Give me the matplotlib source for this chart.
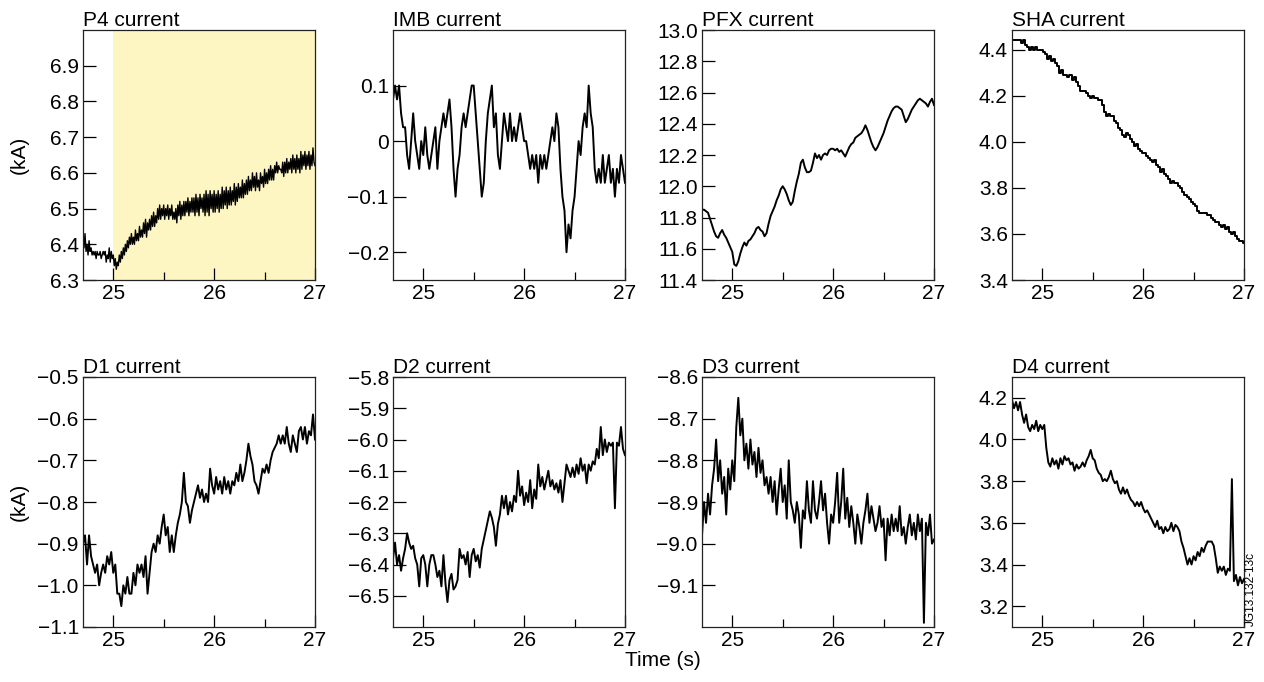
import numpy as np
import matplotlib
matplotlib.use("Agg")
import matplotlib.pyplot as plt
from matplotlib.ticker import FixedLocator, FixedFormatter

plt.rcParams['font.family'] = ['Liberation Sans', 'DejaVu Sans']

# ---------------- data ----------------
t_start, t_end = 24.7, 27.0
shade_start, shade_end = 25.0, 27.0

p4_current = [
    6.42, 6.39, 6.43, 6.38, 6.40, 6.37, 6.41, 6.38, 6.39, 6.37,
    6.38, 6.37, 6.38, 6.36, 6.38, 6.37, 6.37, 6.38, 6.36, 6.37,
    6.38, 6.37, 6.38, 6.35, 6.37, 6.36, 6.39, 6.35, 6.38, 6.36,
    6.37, 6.34, 6.36, 6.33, 6.35, 6.34, 6.37, 6.35, 6.38, 6.36,
    6.39, 6.37, 6.40, 6.38, 6.41, 6.39, 6.42, 6.40, 6.43, 6.40,
    6.42, 6.40, 6.44, 6.41, 6.43, 6.41, 6.45, 6.42, 6.44, 6.42,
    6.46, 6.43, 6.47, 6.42, 6.46, 6.44, 6.47, 6.44, 6.48, 6.45,
    6.49, 6.45, 6.48, 6.46, 6.50, 6.47, 6.51, 6.47, 6.50, 6.48,
    6.51, 6.47, 6.50, 6.48, 6.51, 6.47, 6.50, 6.48, 6.51, 6.47,
    6.49, 6.47, 6.50, 6.46, 6.51, 6.48, 6.52, 6.47, 6.51, 6.48,
    6.52, 6.48, 6.52, 6.49, 6.53, 6.48, 6.52, 6.49, 6.53, 6.49,
    6.53, 6.48, 6.54, 6.49, 6.53, 6.48, 6.54, 6.50, 6.53, 6.49,
    6.54, 6.48, 6.55, 6.49, 6.54, 6.48, 6.55, 6.50, 6.54, 6.49,
    6.55, 6.49, 6.54, 6.50, 6.55, 6.49, 6.54, 6.50, 6.56, 6.50,
    6.55, 6.51, 6.56, 6.50, 6.55, 6.51, 6.56, 6.51, 6.55, 6.52,
    6.57, 6.51, 6.56, 6.52, 6.57, 6.53, 6.56, 6.53, 6.58, 6.53,
    6.57, 6.54, 6.58, 6.54, 6.59, 6.55, 6.58, 6.55, 6.60, 6.56,
    6.59, 6.55, 6.60, 6.56, 6.58, 6.55, 6.60, 6.57, 6.59, 6.56,
    6.61, 6.57, 6.60, 6.57, 6.61, 6.58, 6.62, 6.58, 6.61, 6.58,
    6.62, 6.60, 6.63, 6.60, 6.62, 6.61, 6.61, 6.60, 6.63, 6.59,
    6.63, 6.60, 6.64, 6.60, 6.63, 6.61, 6.64, 6.60, 6.65, 6.61,
    6.64, 6.60, 6.65, 6.61, 6.64, 6.60, 6.66, 6.61, 6.65, 6.62,
    6.66, 6.61, 6.65, 6.62, 6.66, 6.61, 6.65, 6.62, 6.67, 6.63,
    6.62,
]

imb_current = [
    0.075, 0.1, 0.075, 0.1, 0.05, 0.025, 0.025, -0.025, -0.05, 0.0,
    0.05, 0.0, -0.025, -0.05, 0.0, -0.025, 0.025, -0.025, -0.05, -0.025,
    0.0, 0.025, -0.05, 0.0, 0.025, 0.05, 0.025, 0.05, 0.075, 0.025,
    -0.05, -0.1, -0.05, -0.025, 0.025, 0.05, 0.025, 0.05, 0.075, 0.1,
    0.1, 0.05, 0.0, -0.05, -0.1, -0.075, 0.0, 0.05, 0.075, 0.1,
    0.025, 0.05, -0.025, -0.05, 0.0, 0.05, 0.025, 0.0, 0.05, 0.0,
    0.025, 0.0, 0.025, 0.05, 0.025, 0.0, 0.0, -0.025, -0.05, -0.025,
    -0.05, -0.025, -0.075, -0.025, -0.05, -0.025, -0.05, -0.025, 0.0, 0.025,
    0.0, 0.05, 0.025, -0.05, -0.1, -0.125, -0.2, -0.15, -0.175, -0.125,
    -0.1, -0.05, 0.0, -0.025, 0.025, 0.05, 0.025, 0.1, 0.05, 0.025,
    -0.05, -0.075, -0.05, -0.075, -0.025, -0.075, -0.05, -0.025, -0.075, -0.05,
    -0.1, -0.05, -0.075, -0.025, -0.05, -0.075,
]

pfx_current = [
    11.85, 11.85, 11.84, 11.83, 11.79, 11.75, 11.71, 11.68, 11.67, 11.70,
    11.72, 11.69, 11.67, 11.64, 11.61, 11.58, 11.50, 11.49, 11.52, 11.57,
    11.61, 11.64, 11.62, 11.65, 11.66, 11.68, 11.70, 11.73, 11.74, 11.72,
    11.71, 11.68, 11.70, 11.76, 11.81, 11.84, 11.87, 11.91, 11.94, 11.98,
    12.00, 11.98, 11.95, 11.91, 11.88, 11.90, 11.97, 12.03, 12.08, 12.15,
    12.17, 12.12, 12.09, 12.09, 12.10, 12.15, 12.21, 12.18, 12.20, 12.17,
    12.20, 12.21, 12.20, 12.23, 12.24, 12.24, 12.23, 12.24, 12.22, 12.23,
    12.21, 12.19, 12.22, 12.25, 12.27, 12.28, 12.31, 12.32, 12.33, 12.34,
    12.36, 12.39, 12.36, 12.32, 12.28, 12.25, 12.23, 12.25, 12.28, 12.31,
    12.34, 12.38, 12.42, 12.45, 12.48, 12.50, 12.51, 12.51, 12.50, 12.49,
    12.45, 12.41, 12.43, 12.46, 12.49, 12.51, 12.53, 12.55, 12.56, 12.55,
    12.54, 12.53, 12.51, 12.54, 12.56, 12.52,
]

sha_current = [
    4.44, 4.44, 4.44, 4.44, 4.44, 4.43, 4.44, 4.42, 4.41, 4.40,
    4.41, 4.40, 4.41, 4.40, 4.40, 4.40, 4.39, 4.38, 4.36, 4.37,
    4.35, 4.36, 4.34, 4.33, 4.30, 4.31, 4.29, 4.29, 4.28, 4.29,
    4.27, 4.28, 4.26, 4.24, 4.22, 4.22, 4.22, 4.21, 4.20, 4.19,
    4.20, 4.19, 4.19, 4.18, 4.18, 4.16, 4.13, 4.11, 4.12, 4.11,
    4.11, 4.09, 4.08, 4.06, 4.05, 4.03, 4.02, 4.04, 4.03, 4.01,
    4.00, 3.98, 3.99, 3.97, 3.96, 3.95, 3.95, 3.94, 3.93, 3.92,
    3.91, 3.92, 3.90, 3.89, 3.87, 3.88, 3.86, 3.85, 3.84, 3.82,
    3.83, 3.82, 3.82, 3.81, 3.80, 3.78, 3.77, 3.76, 3.75, 3.74,
    3.73, 3.72, 3.70, 3.69, 3.69, 3.69, 3.69, 3.68, 3.68, 3.67,
    3.66, 3.65, 3.65, 3.64, 3.63, 3.64, 3.62, 3.63, 3.61, 3.60,
    3.61, 3.59, 3.58, 3.57, 3.57, 3.56,
]

d1_current = [
    -0.90, -0.88, -0.95, -0.88, -0.93, -0.95, -0.97, -0.95, -1.00, -0.97,
    -0.95, -0.97, -0.93, -0.95, -0.92, -0.97, -0.95, -1.02, -1.02, -1.05,
    -1.00, -1.02, -0.98, -1.02, -1.02, -0.97, -1.00, -0.95, -0.97, -0.95,
    -0.98, -0.93, -1.02, -0.97, -0.92, -0.90, -0.92, -0.88, -0.90, -0.86,
    -0.83, -0.88, -0.86, -0.92, -0.88, -0.92, -0.88, -0.85, -0.83, -0.80,
    -0.73, -0.80, -0.81, -0.85, -0.82, -0.80, -0.78, -0.76, -0.79, -0.77,
    -0.80, -0.78, -0.80, -0.72, -0.76, -0.78, -0.74, -0.77, -0.75, -0.78,
    -0.74, -0.77, -0.75, -0.78, -0.75, -0.76, -0.73, -0.75, -0.71, -0.75,
    -0.73, -0.70, -0.66, -0.69, -0.71, -0.75, -0.76, -0.78, -0.75, -0.72,
    -0.73, -0.71, -0.73, -0.70, -0.68, -0.67, -0.66, -0.64, -0.66, -0.64,
    -0.66, -0.62, -0.66, -0.68, -0.64, -0.66, -0.68, -0.63, -0.62, -0.65,
    -0.62, -0.66, -0.63, -0.64, -0.59, -0.65,
]

d2_current = [
    -6.38, -6.33, -6.40, -6.37, -6.42, -6.38, -6.35, -6.30, -6.33, -6.35,
    -6.34, -6.38, -6.40, -6.47, -6.38, -6.37, -6.40, -6.47, -6.40, -6.37,
    -6.37, -6.40, -6.44, -6.42, -6.47, -6.37, -6.46, -6.52, -6.45, -6.43,
    -6.48, -6.47, -6.45, -6.35, -6.38, -6.37, -6.40, -6.36, -6.44, -6.37,
    -6.35, -6.39, -6.37, -6.41, -6.35, -6.32, -6.29, -6.26, -6.23, -6.25,
    -6.28, -6.34, -6.27, -6.24, -6.18, -6.22, -6.18, -6.24, -6.20, -6.23,
    -6.18, -6.20, -6.10, -6.18, -6.15, -6.21, -6.17, -6.20, -6.13, -6.22,
    -6.16, -6.19, -6.08, -6.15, -6.12, -6.16, -6.13, -6.10, -6.15, -6.13,
    -6.16, -6.14, -6.17, -6.13, -6.20, -6.14, -6.08, -6.10, -6.12, -6.09,
    -6.12, -6.08, -6.11, -6.06, -6.10, -6.08, -6.14, -6.08, -6.10, -6.07,
    -6.08, -6.03, -6.06, -5.96, -6.05, -6.00, -6.04, -6.01, -6.02, -6.01,
    -6.22, -6.01, -6.02, -5.96, -6.03, -6.05,
]

d3_current = [
    -8.98, -8.90, -8.95, -8.88, -8.93, -8.86, -8.82, -8.75, -8.85, -8.80,
    -8.88, -8.84, -8.93, -8.82, -8.87, -8.80, -8.85, -8.72, -8.65, -8.74,
    -8.70, -8.80, -8.76, -8.82, -8.75, -8.81, -8.78, -8.84, -8.77, -8.83,
    -8.80, -8.86, -8.84, -8.88, -8.84, -8.90, -8.85, -8.93, -8.87, -8.82,
    -8.90, -8.86, -8.94, -8.80, -8.90, -8.92, -8.95, -8.90, -8.93, -9.01,
    -8.92, -8.94, -8.85, -8.92, -8.95, -8.85, -8.92, -8.94, -8.90, -8.85,
    -8.92, -8.88, -8.95, -9.00, -8.93, -8.95, -8.90, -8.83, -8.95, -8.90,
    -8.82, -8.94, -8.89, -8.96, -8.91, -8.95, -9.00, -8.93, -8.96, -9.00,
    -8.95, -8.92, -8.88, -8.95, -8.91, -8.94, -8.97, -8.95, -8.91, -8.96,
    -8.94, -9.04, -8.94, -8.98, -8.93, -8.97, -8.94, -8.97, -8.91, -8.98,
    -8.96, -9.00, -8.96, -8.93, -8.98, -8.95, -8.99, -8.93, -8.97, -8.94,
    -9.19, -8.95, -8.98, -8.93, -9.00, -8.99,
]

d4_current = [
    4.19, 4.15, 4.18, 4.14, 4.18, 4.12, 4.08, 4.12, 4.06, 4.04,
    4.07, 4.05, 4.09, 4.04, 4.07, 4.05, 4.07, 3.96, 3.89, 3.87,
    3.91, 3.88, 3.90, 3.86, 3.91, 3.88, 3.92, 3.90, 3.91, 3.88,
    3.89, 3.85, 3.88, 3.86, 3.87, 3.89, 3.87, 3.90, 3.92, 3.95,
    3.91, 3.90, 3.86, 3.84, 3.83, 3.80, 3.81, 3.80, 3.82, 3.85,
    3.81, 3.79, 3.80, 3.76, 3.74, 3.77, 3.74, 3.76, 3.73, 3.71,
    3.70, 3.68, 3.70, 3.68, 3.70, 3.67, 3.65, 3.66, 3.64, 3.62,
    3.60, 3.58, 3.61, 3.57, 3.58, 3.55, 3.58, 3.56, 3.57, 3.60,
    3.56, 3.59, 3.58, 3.56, 3.51, 3.48, 3.44, 3.40, 3.43, 3.40,
    3.44, 3.42, 3.46, 3.44, 3.48, 3.46, 3.49, 3.51, 3.51, 3.51,
    3.49, 3.43, 3.36, 3.39, 3.37, 3.39, 3.35, 3.38, 3.37, 3.81,
    3.32, 3.35, 3.30, 3.34, 3.31, 3.33,
]

titles = ["P4 current", "IMB current", "PFX current", "SHA current",
          "D1 current", "D2 current", "D3 current", "D4 current"]
series = [p4_current, imb_current, pfx_current, sha_current,
          d1_current, d2_current, d3_current, d4_current]
draw_styles = ['default', 'default', 'default', 'steps-mid',
               'default', 'default', 'default', 'default']
line_widths = [1.0, 1.4, 1.4, 1.4, 1.4, 1.4, 1.4, 1.4]

y_limits = [(6.3, 7.0), (-0.25, 0.2), (11.4, 13.0), (3.4, 4.485),
            (-1.1, -0.5), (-6.6, -5.8), (-9.2, -8.6), (3.1, 4.3)]
y_ticks = [
    [6.3, 6.4, 6.5, 6.6, 6.7, 6.8, 6.9],
    [-0.2, -0.1, 0.0, 0.1],
    [11.4, 11.6, 11.8, 12.0, 12.2, 12.4, 12.6, 12.8, 13.0],
    [3.4, 3.6, 3.8, 4.0, 4.2, 4.4],
    [-1.1, -1.0, -0.9, -0.8, -0.7, -0.6, -0.5],
    [-6.5, -6.4, -6.3, -6.2, -6.1, -6.0, -5.9, -5.8],
    [-9.1, -9.0, -8.9, -8.8, -8.7, -8.6],
    [3.2, 3.4, 3.6, 3.8, 4.0, 4.2],
]
imb_tick_labels = ["\u22120.2", "\u22120.1", "0", "0.1"]
x_ticks = [25, 26, 27]
x_minor_ticks = [25.5, 26.5]

# ---------------- figure ----------------
W, H = 1264, 682
fig = plt.figure(figsize=(W / 100, H / 100), dpi=100)

col_left = [83, 393, 702, 1012]
ax_w = 232
row_top = [30, 377]
ax_h = 250

FS = 15
for i, (title, vals) in enumerate(zip(titles, series)):
    r, c = divmod(i, 4)
    ax = fig.add_axes([col_left[c] / W, 1 - (row_top[r] + ax_h) / H, ax_w / W, ax_h / H])
    t = np.linspace(t_start, t_end, len(vals))
    if i == 0:
        ax.axvspan(shade_start, shade_end, color='#fdf6c3', lw=0, zorder=0)
    ax.plot(t, vals, color='black', lw=line_widths[i], drawstyle=draw_styles[i], zorder=2)
    ax.set_xlim(t_start, t_end)
    ax.set_ylim(*y_limits[i])
    ax.xaxis.set_major_locator(FixedLocator(x_ticks))
    ax.xaxis.set_minor_locator(FixedLocator(x_minor_ticks))
    ax.set_xticklabels([str(v) for v in x_ticks])
    ax.yaxis.set_major_locator(FixedLocator(y_ticks[i]))
    if i == 1:
        labels = imb_tick_labels
    else:
        labels = [f"{v:.1f}".replace("-", "\u2212") for v in y_ticks[i]]
    ax.yaxis.set_major_formatter(FixedFormatter(labels))
    ax.tick_params(axis='both', which='both', direction='in', top=False, right=False,
                   labelsize=FS, colors='black', width=0.9)
    ax.tick_params(axis='x', which='major', length=9, pad=3)
    ax.tick_params(axis='x', which='minor', length=5.5)
    ax.tick_params(axis='y', which='major', length=9, pad=3)
    for s in ax.spines.values():
        s.set_linewidth(0.9)
        s.set_color('#222222')
    ax.set_title(title, loc='left', fontsize=FS, pad=2)

fig.text(19 / W, 1 - 155 / H, "(kA)", rotation=90, ha='center', va='center', fontsize=FS)
fig.text(19 / W, 1 - 502 / H, "(kA)", rotation=90, ha='center', va='center', fontsize=FS)
fig.text(663 / W, 1 - 660 / H, "Time (s)", ha='center', va='center', fontsize=FS)
fig.text(1251 / W, 1 - 589 / H, "JG13.132-13c", rotation=90, ha='center', va='center', fontsize=8.5)

fig.savefig("out.png", dpi=100)
